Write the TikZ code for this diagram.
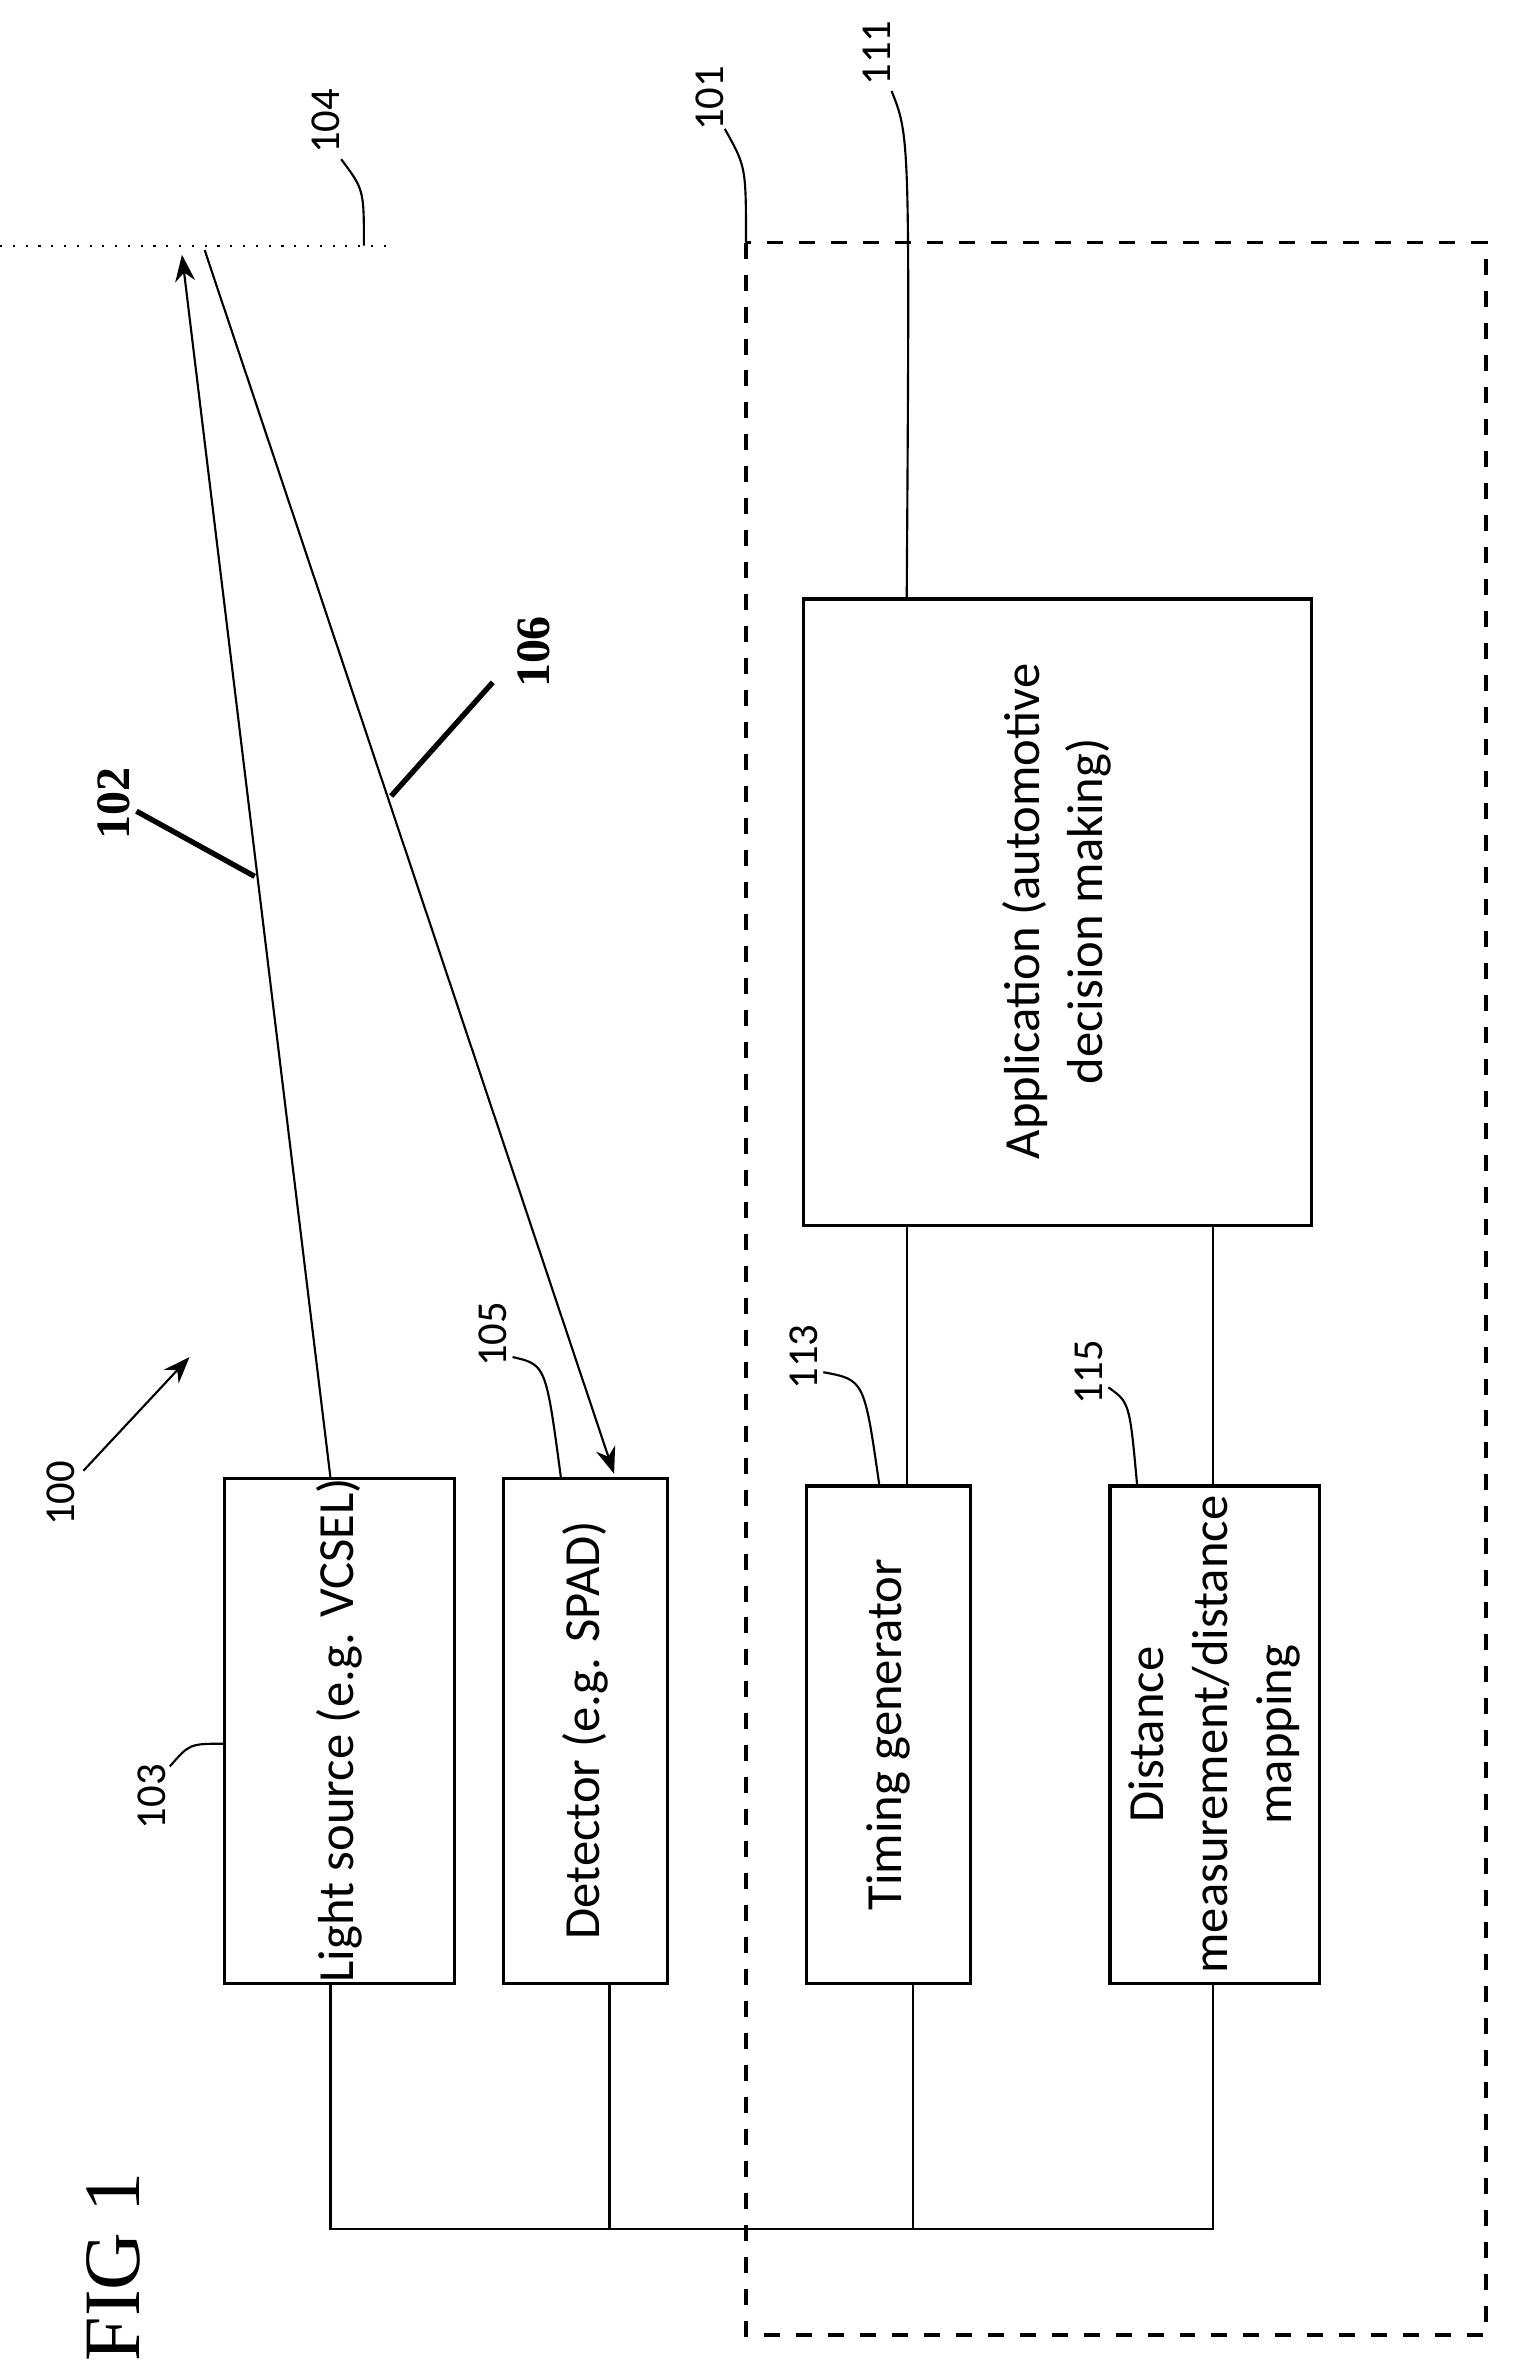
\documentclass[tikz,border=0pt]{standalone}
\usepackage{fontspec}
\setmainfont{Liberation Serif}
\setsansfont{Carlito}
\usetikzlibrary{arrows.meta}
\begin{document}
\begin{tikzpicture}[x=0.1mm,y=-0.1mm,line width=0.4pt,
  blk/.style={draw,line width=0.6pt},
  txt/.style={rotate=90,align=center,font=\sffamily\fontsize{9.5}{12}\selectfont},
  lbl/.style={rotate=90,font=\sffamily\fontsize{8}{10}\selectfont},
  bl/.style={rotate=90,font=\bfseries\fontsize{9}{11}\selectfont}]
\useasboundingbox (0,0) rectangle (1000,1569);

% system boundary
\draw[dashed,line width=0.6pt] (492,160) rectangle (980,1540);
\draw[dotted] (0,162) -- (260,162);

% blocks
\draw[blk] (148,975) rectangle (300,1308);
\node[txt] (light) at (224,1141) {Light source (e.g. VCSEL)};
\draw[blk] (332,975) rectangle (440,1308);
\node[txt] (det) at (386,1141) {Detector (e.g. SPAD)};
\draw[blk] (532,980) rectangle (640,1308);
\node[txt] (timing) at (586,1144) {Timing generator};
\draw[blk] (732,980) rectangle (870,1308);
\node[txt] (dist) at (801,1144) {Distance\\measurement/distance\\mapping};
\draw[blk] (530,395) rectangle (865,808);
\node[txt] (app) at (697,601) {Application (automotive\\decision making)};

% bus
\draw (218,1308) -- (218,1470) -- (800,1470) -- (800,1308);
\draw (402,1308) -- (402,1470);
\draw (602,1308) -- (602,1470);
\draw (598,808) -- (598,980);
\draw (800,808) -- (800,980);

% light path
\draw[-{Stealth[length=5pt]}] (218,975) -- (120,168);
\draw[-{Stealth[length=5pt]}] (135,165) -- (405,972);
\draw[-{Stealth[length=5pt]}] (55,970) -- (125,895);

% reference labels
\node[lbl] (l100) at (40,985) {100};
\node[lbl] (l103) at (100,1185) {103};
\draw (112,1165) .. controls (125,1150) .. (148,1150);
\node[lbl] (l105) at (325,880) {105};
\draw (338,895) .. controls (360,900) .. (370,975);
\node[lbl] (l113) at (530,895) {113};
\draw (543,905) .. controls (570,910) .. (580,980);
\node[lbl] (l115) at (718,905) {115};
\draw (731,915) .. controls (745,925) .. (750,980);
\node[lbl] (l101) at (468,65) {101};
\draw (478,85) .. controls (492,110) .. (492,160);
\node[lbl] (l111) at (578,35) {111};
\draw (588,60) .. controls (600,90) .. (598,395);
\node[lbl] (l104) at (215,80) {104};
\draw (225,105) .. controls (240,125) .. (240,162);
\node[bl] (l102) at (75,530) {102};
\draw[line width=1pt] (90,535) -- (168,578);
\node[bl] (l106) at (352,430) {106};
\draw[line width=1pt] (325,450) -- (258,525);
\node[rotate=90,font=\fontsize{15}{17}\selectfont] (fig) at (75,1495) {FIG 1};
\end{tikzpicture}
\end{document}
